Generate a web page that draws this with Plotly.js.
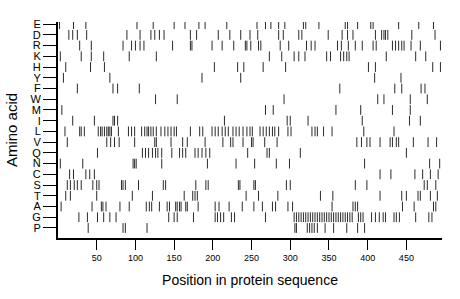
<!DOCTYPE html>
<html>
<head>
<meta charset="utf-8">
<script src="https://cdn.plot.ly/plotly-3.0.1.min.js"></script>
<style>html,body{margin:0;padding:0;background:#fff;}#chart{width:460px;height:299px;}</style>
</head>
<body>
<div id="chart"></div>
<script>
// Amino acid rows, top to bottom
const aminoAcids = ["E","D","R","K","H","Y","F","W","M","I","L","V","Q","N","C","S","T","A","G","P"];
const xTicks = [50,100,150,200,250,300,350,400,450];

// Positions of each amino acid along the protein sequence
const posE = [2,20,36,102,123,150,164,182,190,218,257,268,275,285,293,317,320,337,371,374,387,404,407,440,466,485];
const posD = [14,19,25,37,89,106,120,125,131,137,171,179,207,222,236,248,258,285,291,311,315,349,367,374,381,410,418,421,423,426,457,487];
const posR = [28,43,84,95,100,106,111,148,171,173,199,212,227,242,244,249,259,262,287,298,321,327,332,361,366,375,384,393,407,411,432,436,440,444,447,456,468,494];
const posK = [3,30,43,59,92,127,273,289,305,311,319,347,352,365,369,373,376,424,462,475];
const posH = [10,42,60,202,232,240,265,294,401,410,484,494];
const posY = [7,67,186,236,409,443];
const posF = [25,71,77,105,364,435,444,469,474];
const posW = [126,154,292,413,421,455,477];
const posM = [5,268,278,359,391,432,455];
const posI = [19,47,71,73,77,215,296,300,323,393,454,468];
const posL = [9,28,30,34,52,55,57,60,63,65,67,69,78,91,95,99,108,112,115,117,120,123,127,133,138,142,146,150,153,171,183,187,199,203,207,212,216,220,226,230,234,239,244,248,251,261,265,269,273,277,280,285,297,301,328,332,335,343,354,395,434];
const posV = [12,63,68,73,79,99,125,127,146,161,167,190,213,223,226,239,250,252,267,283,386,392,399,403,416,429,432,437,440,459,478,489];
const posQ = [51,109,113,117,122,126,129,134,147,157,161,165,177,181,186,191,196,245,270,273,313,450];
const posN = [3,32,97,99,101,134,193,230,254,282,299,396,480,493];
const posC = [15,20,36,41,47,416,430,461,471,481,491];
const posS = [12,16,21,25,30,45,50,53,82,84,87,104,136,139,178,191,194,233,235,253,255,295,300,384,399,473,477,488];
const posT = [10,16,50,96,122,163,174,177,180,243,259,284,339,355,416,444,450,465,468,481,490];
const posA = [4,44,56,58,62,80,92,114,118,121,131,141,144,152,154,157,159,165,167,181,203,208,221,238,253,264,277,281,297,303,354,381,384,387,445,460,485,488];
const posG = [27,38,51,59,67,75,143,150,154,175,203,206,210,214,224,228,268,305,308,311,314,317,320,323,326,329,332,335,338,341,344,347,350,353,356,359,362,365,368,371,374,377,380,388,391,394,405,410,415,420,423,434,437,441,462,479,483];
const posP = [39,84,87,115,306,308,322,325,328,331,335,345,356,373,387,396];

const positions = {E:posE,D:posD,R:posR,K:posK,H:posH,Y:posY,F:posF,W:posW,M:posM,I:posI,
  L:posL,V:posV,Q:posQ,N:posN,C:posC,S:posS,T:posT,A:posA,G:posG,P:posP};

const n = aminoAcids.length;
const traces = aminoAcids.map((aa, i) => {
  const xs = positions[aa];
  const yv = n - 1 - i;
  return {
    type: "scatter", mode: "markers", name: aa,
    x: xs, y: xs.map(() => yv),
    marker: {symbol: "line-ns", size: 7, color: "#2a2a2a", line: {width: 1, color: "#2a2a2a"}},
    hoverinfo: "x+name", showlegend: false
  };
});

const font = "Liberation Sans, Arial, Helvetica, sans-serif";
const layout = {
  width: 460, height: 299,
  margin: {l: 58, r: 18, t: 22, b: 61},
  paper_bgcolor: "#fff", plot_bgcolor: "#fff",
  showlegend: false,
  xaxis: {
    range: [0, 496], showgrid: false, zeroline: false,
    showline: true, linecolor: "#000", linewidth: 2,
    ticks: "outside", ticklen: 10, tickwidth: 1, tickcolor: "#000",
    tickvals: xTicks, ticktext: xTicks.map(String),
    tickfont: {family: font, size: 9, color: "#000"},
    title: {text: "Position in protein sequence", font: {family: font, size: 14, color: "#000"}, standoff: 13}
  },
  yaxis: {
    range: [-0.935, 19.2], showgrid: false, zeroline: false,
    showline: true, linecolor: "#000", linewidth: 2,
    ticks: "outside", ticklen: 13, tickwidth: 1, tickcolor: "#000",
    tickvals: aminoAcids.map((_, i) => n - 1 - i), ticktext: aminoAcids,
    tickfont: {family: font, size: 11, color: "#000"},
    title: {text: "Amino acid", font: {family: font, size: 15, color: "#000"}, standoff: 9}
  }
};

Plotly.newPlot("chart", traces, layout, {staticPlot: true, displayModeBar: false});
</script>
</body>
</html>
